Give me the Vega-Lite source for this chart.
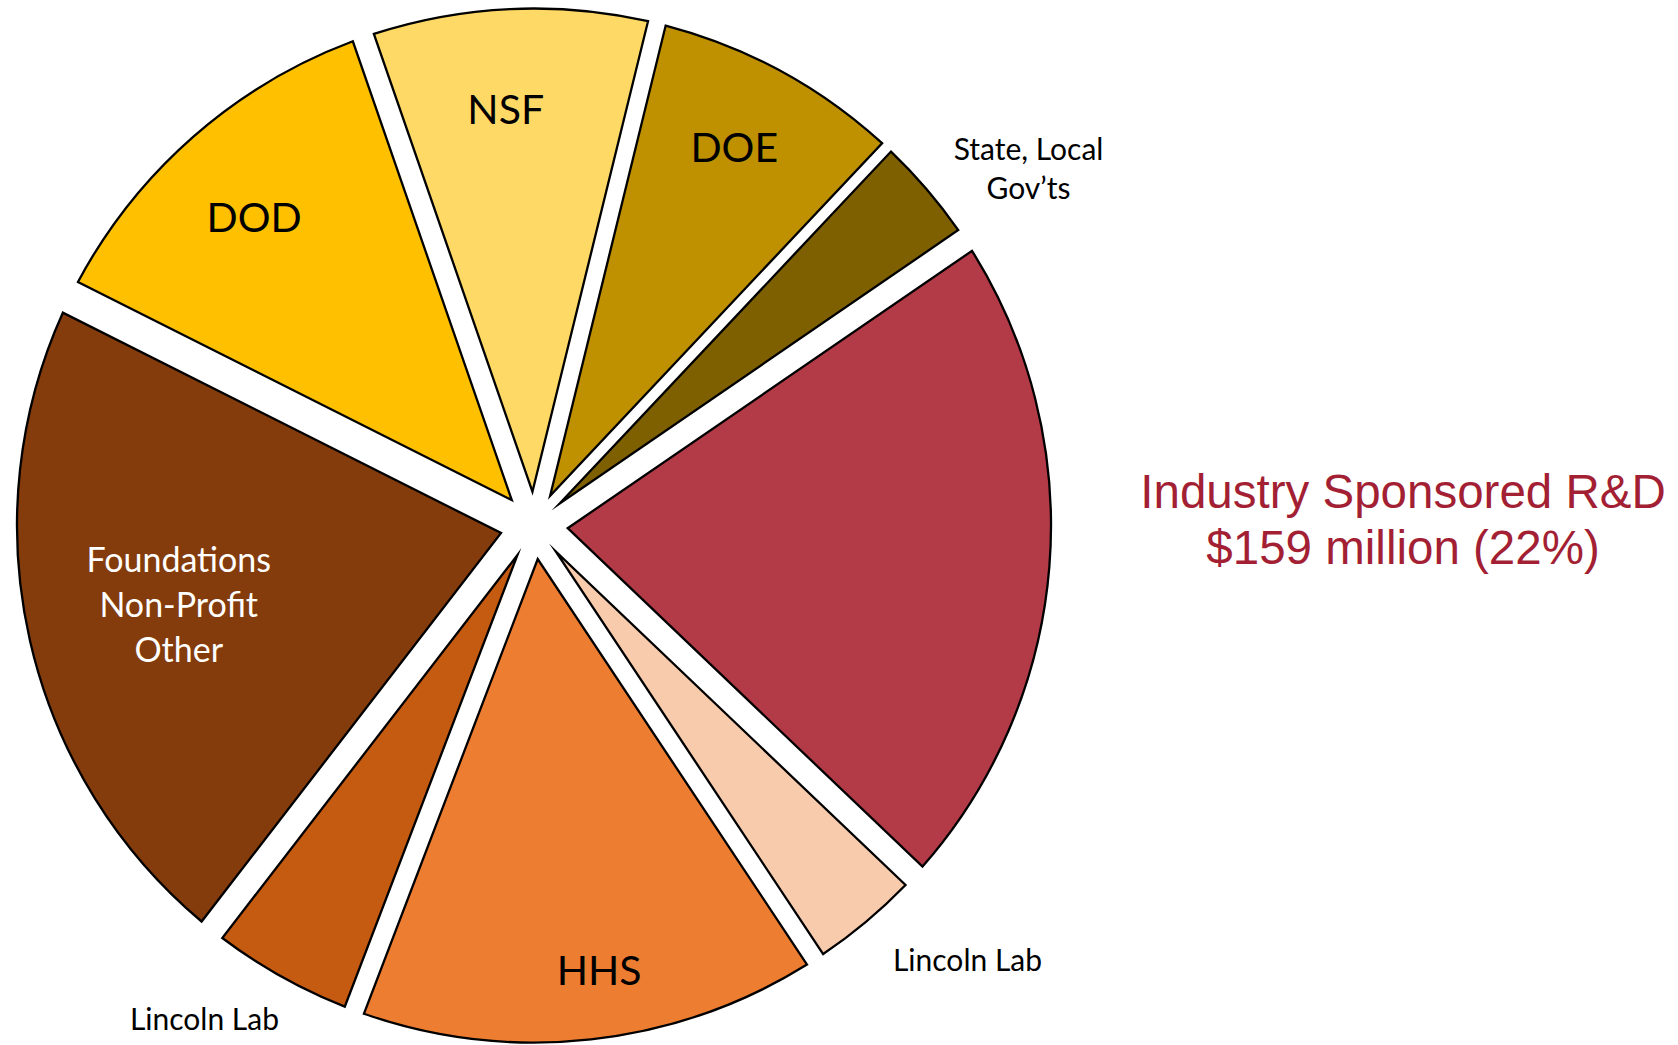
{
  "$schema": "https://vega.github.io/schema/vega-lite/v6.json",
  "width": 1068,
  "height": 1039,
  "autosize": {"type": "none"},
  "padding": {"left": 0, "top": 6, "right": 610, "bottom": 0},
  "background": "white",
  "config": {"view": {"stroke": null}},
  "data": {
    "values": [
      {"rank": 1, "name": "DOE", "label": "DOE", "value": 60},
      {"rank": 2, "name": "State, Local Gov’ts", "label": "State, Local\nGov’ts", "value": 25},
      {"rank": 3, "name": "Industry Sponsored R&D", "label": "Industry Sponsored R&D\n$159 million (22%)", "value": 159},
      {"rank": 4, "name": "Lincoln Lab A", "label": "Lincoln Lab", "value": 26},
      {"rank": 5, "name": "HHS", "label": "HHS", "value": 111},
      {"rank": 6, "name": "Lincoln Lab B", "label": "Lincoln Lab", "value": 34},
      {"rank": 7, "name": "Foundations, Non-Profit, Other", "label": "Foundations\nNon-Profit\nOther", "value": 161},
      {"rank": 8, "name": "DOD", "label": "DOD", "value": 90},
      {"rank": 9, "name": "NSF", "label": "NSF", "value": 67}
    ]
  },
  "transform": [{"joinaggregate": [{"op": "sum", "field": "value", "as": "total"}]}],
  "encoding": {
    "theta": {"field": "value", "type": "quantitative", "stack": true, "scale": {"range": [0.2409, 6.5241]}},
    "order": {"field": "rank", "type": "quantitative"},
    "detail": {"field": "name", "type": "nominal"}
  },
  "layer": [
    {
      "mark": {
        "type": "arc",
        "radius": 517,
        "radius2": 33.8,
        "padAngle": {"expr": "2*asin(33.8*sin(PI*datum.value/datum.total)/518.1)"},
        "stroke": "#000000",
        "strokeWidth": 2.3,
        "strokeJoin": "miter",
        "strokeMiterLimit": 14
      },
      "encoding": {
        "color": {
          "field": "name",
          "type": "nominal",
          "legend": null,
          "scale": {
            "domain": ["DOE", "State, Local Gov’ts", "Industry Sponsored R&D", "Lincoln Lab A", "HHS", "Lincoln Lab B", "Foundations, Non-Profit, Other", "DOD", "NSF"],
            "range": ["#BF9000", "#7F6000", "#B33B48", "#F8CBAD", "#ED7D31", "#C55A11", "#843C0C", "#FFC000", "#FFD966"]
          }
        }
      }
    },
    {
      "mark": {"type": "text", "radius": 414.6, "thetaOffset": -0.022, "font": "Lato", "fontSize": 41, "color": "#000000", "lineBreak": "\n"},
      "encoding": {"text": {"condition": {"test": "datum.name === 'NSF' || datum.name === 'DOD'", "field": "label", "type": "nominal"}, "value": ""}}
    },
    {
      "mark": {"type": "text", "radius": 425.4, "thetaOffset": -0.008, "font": "Lato", "fontSize": 41, "color": "#000000", "lineBreak": "\n"},
      "encoding": {"text": {"condition": {"test": "datum.name === 'DOE'", "field": "label", "type": "nominal"}, "value": ""}}
    },
    {
      "mark": {"type": "text", "radius": 452.4, "thetaOffset": -0.034, "font": "Lato", "fontSize": 41, "color": "#000000", "lineBreak": "\n"},
      "encoding": {"text": {"condition": {"test": "datum.name === 'HHS'", "field": "label", "type": "nominal"}, "value": ""}}
    },
    {
      "mark": {"type": "text", "radius": 357.1, "thetaOffset": 0.1224, "font": "Lato", "fontSize": 34, "lineHeight": 45, "color": "#FFFFFF", "lineBreak": "\n"},
      "encoding": {"text": {"condition": {"test": "datum.name === 'Foundations, Non-Profit, Other'", "field": "label", "type": "nominal"}, "value": ""}}
    },
    {
      "mark": {"type": "text", "radius": 620.6, "thetaOffset": 0.0597, "font": "Lato", "fontSize": 30, "lineHeight": 39.6, "color": "#000000", "lineBreak": "\n"},
      "encoding": {"text": {"condition": {"test": "datum.name === 'State, Local Gov’ts'", "field": "label", "type": "nominal"}, "value": ""}}
    },
    {
      "mark": {"type": "text", "radius": 615, "thetaOffset": -0.0845, "font": "Lato", "fontSize": 30, "color": "#000000", "lineBreak": "\n"},
      "encoding": {"text": {"condition": {"test": "datum.name === 'Lincoln Lab A'", "field": "label", "type": "nominal"}, "value": ""}}
    },
    {
      "mark": {"type": "text", "radius": 594.8, "thetaOffset": 0.0763, "font": "Lato", "fontSize": 30, "color": "#000000", "lineBreak": "\n"},
      "encoding": {"text": {"condition": {"test": "datum.name === 'Lincoln Lab B'", "field": "label", "type": "nominal"}, "value": ""}}
    },
    {
      "mark": {"type": "text", "radius": 869.6, "thetaOffset": -0.1166, "font": "Liberation Sans", "fontSize": 47.5, "lineHeight": 56, "color": "#A31F34", "lineBreak": "\n"},
      "encoding": {"text": {"condition": {"test": "datum.name === 'Industry Sponsored R&D'", "field": "label", "type": "nominal"}, "value": ""}}
    }
  ]
}
